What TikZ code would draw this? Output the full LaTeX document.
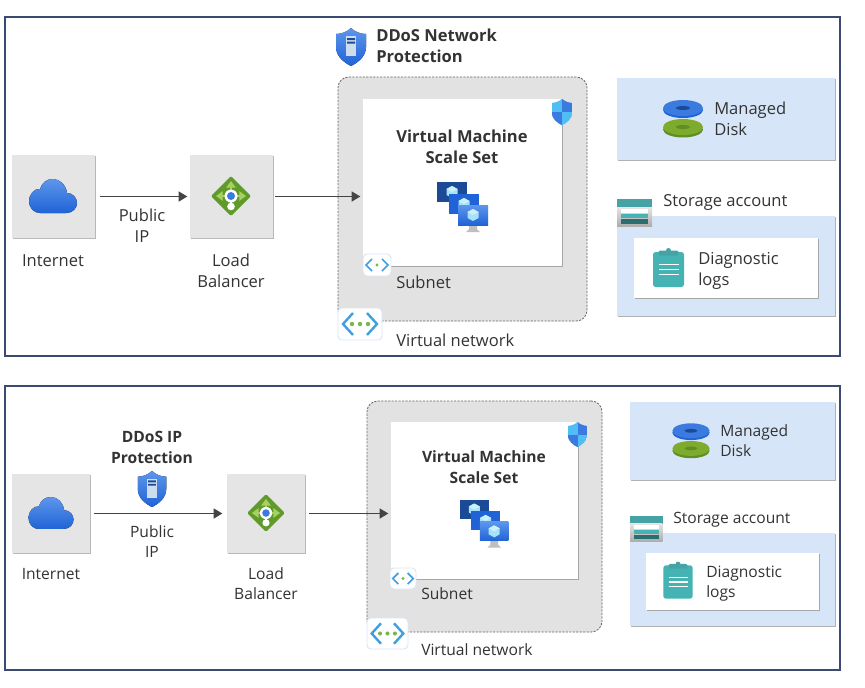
\documentclass[tikz,border=0pt]{standalone}
\usepackage{fontspec}
\setmainfont{Open Sans}
\usetikzlibrary{arrows.meta,shadows}
\definecolor{framec}{HTML}{3A4A70}
\definecolor{tilec}{HTML}{E5E5E5}
\definecolor{vnetc}{HTML}{E2E2E2}
\definecolor{palec}{HTML}{D6E6F8}
\definecolor{inkc}{HTML}{333333}
\definecolor{lineb}{HTML}{444444}
\definecolor{chevc}{HTML}{3F9FE3}
\definecolor{dotc}{HTML}{7AB648}
\definecolor{tealc}{HTML}{45B3B3}
\definecolor{tealtop}{HTML}{45A3A6}
\definecolor{tealdark}{HTML}{2A6E70}
\definecolor{bluehi}{HTML}{5E96EC}
\definecolor{bluelo}{HTML}{1F63D6}
\definecolor{bluemid}{HTML}{3B7BE0}
\definecolor{bluedeep}{HTML}{1B4A96}
\definecolor{cyanhi}{HTML}{50BDF5}
\definecolor{greena}{HTML}{5F9A2A}
\definecolor{greenb}{HTML}{7EAA2E}
\definecolor{greenc}{HTML}{5F8F24}
\definecolor{greenl}{HTML}{A8D060}
\newcommand{\shieldpath}{(0,-19) .. controls (4,-15) and (10,-13) .. (15,-13) -- (15,0) .. controls (15,10) and (6,16) .. (0,19) .. controls (-6,16) and (-15,10) .. (-15,0) -- (-15,-13) .. controls (-10,-13) and (-4,-15) .. (0,-19) -- cycle}
\tikzset{
  sized/.style 2 args={minimum width=#1*.75pt,minimum height=#2*.75pt,inner sep=0pt,outer sep=0pt},
  frame/.style={draw=framec,line width=1.5pt,fill=white},
  tile/.style={fill=tilec,drop shadow={shadow xshift=.9pt,shadow yshift=-.9pt,fill=black!28,opacity=1}},
  palebox/.style={fill=palec,drop shadow={shadow xshift=.9pt,shadow yshift=-.9pt,fill=black!30,opacity=1}},
  whitebox/.style={fill=white,drop shadow={shadow xshift=1pt,shadow yshift=-1pt,fill=black!35,opacity=1}},
  vnetbox/.style={fill=vnetc,draw=black!60,dash pattern=on 1.6pt off 1pt,line width=.6pt,rounded corners=8pt},
  iconbox/.style={fill=white,draw=palec,line width=.7pt,rounded corners=3pt},
  link/.style={draw=lineb,line width=1.1pt,-{Triangle[length=6.5pt,width=7.5pt]}},
  lbl/.style={text=inkc,inner sep=0pt,align=center},
  lblleft/.style={lbl,align=left,anchor=west},
  sizea/.style={font=\fontsize{12.4}{15.75}\selectfont},
  sizeb/.style={font=\fontsize{11.7}{15}\selectfont},
  boldtxt/.style={font=\fontsize{#1}{15.75}\selectfont\bfseries},
  cloudicon/.pic={
    \fill[top color=bluehi,bottom color=bluelo] (-13,17) -- (13,17) .. controls (20,17) and (24,12) .. (24,7) .. controls (24,2) and (20,-3) .. (14,-3) .. controls (13,-11) and (7,-17) .. (0,-17) .. controls (-7,-17) and (-11,-13) .. (-13,-7) .. controls (-19,-8) and (-24,-1) .. (-24,5) .. controls (-24,12) and (-19,17) .. (-13,17) -- cycle;
  },
  lbicon/.pic={
    \fill[rounded corners=1pt,greena] (0,-20) -- (20,0) -- (0,20) -- (-20,0) -- cycle;
    \foreach \tipx/\tipy in {0/-15,-15/0,15/0}
      \draw[line width=2pt,draw=greenl,-{Triangle[length=5pt,width=7pt]}] (0,0) -- (\tipx,\tipy);
    \draw[white,line width=2pt] (0,0) -- (0,9);
    \fill[white] (0,0) circle (6.5);
    \fill[bluemid] (0,0) circle (4);
    \fill[white] (0,10.5) circle (3.8);
  },
  ddosicon/.pic={
    \fill[top color=bluehi,bottom color=bluelo] \shieldpath;
    \fill[black!4!palec] (-5,-11) rectangle (5,9);
    \fill[bluedeep] (-4,-9) rectangle (4,-7) (-4,-5.5) rectangle (4,-3.5);
  },
  defendericon/.pic={
    \begin{scope}[scale=.7]
    \clip \shieldpath;
    \fill[cyanhi] (-15,-19) rectangle (0,0);
    \fill[bluemid] (0,-19) rectangle (15,0);
    \fill[bluemid] (-15,0) rectangle (0,19);
    \fill[cyanhi] (0,0) rectangle (15,19);
    \end{scope}
  },
  cube/.pic={
    \fill[cyan!35!white] (0,-6) -- (5.5,-3) -- (5.5,3) -- (0,6) -- (-5.5,3) -- (-5.5,-3) -- cycle;
    \fill[cyan!20!white] (0,-6) -- (5.5,-3) -- (0,0) -- (-5.5,-3) -- cycle;
  },
  vmssicon/.pic={
    \fill[bluedeep] (0,0) rectangle (30,20);
    \pic at (15,10) {cube};
    \fill[bluelo] (12,12) rectangle (42,32);
    \pic at (27,22) {cube};
    \fill[black!25] (32,43) -- (40,43) -- (40,47) -- (43,50) -- (29,50) -- (32,47) -- cycle;
    \fill[top color=bluehi,bottom color=bluelo] (21,23) rectangle (51,43);
    \pic at (36,33) {cube};
  },
  subnetglyph/.pic={
    \draw[chevc,line width=1.3pt] (-5,-6) -- (-11,0) -- (-5,6) (5,-6) -- (11,0) -- (5,6);
    \fill[dotc] (0,0) circle (1.7);
  },
  vnetglyph/.pic={
    \draw[chevc,line width=1.8pt] (-7,-11) -- (-17,0) -- (-7,11) (7,-11) -- (17,0) -- (7,11);
    \foreach \dotx in {-8,0,8}
      \fill[dotc] (\dotx,0) circle (2.2);
  },
  diskicon/.pic={
    \fill[greenc] (0,10.5) ellipse [x radius=20,y radius=8];
    \fill[greenb] (0,8) ellipse [x radius=20,y radius=8];
    \fill[greenc] (0,8) ellipse [x radius=7,y radius=2];
    \fill[bluelo] (0,-9) ellipse [x radius=20,y radius=8];
    \fill[bluemid] (0,-11) ellipse [x radius=20,y radius=8];
    \fill[bluedeep] (0,-11) ellipse [x radius=7,y radius=2];
  },
  storageicon/.pic={
    \fill[top color=black!10,bottom color=black!32] (0,8) rectangle (35,27);
    \fill[tealtop] (0,0) rectangle (35,8);
    \fill[white] (4,10) rectangle (31,14);
    \fill[tealc] (4,15) rectangle (31,19);
    \fill[tealdark] (4,20) rectangle (31,25);
  },
  logicon/.pic={
    \fill[rounded corners=2pt,tealc] (-15.5,-17.5) rectangle (15.5,17.5);
    \fill[rounded corners=1pt,tealtop] (-10,-19) rectangle (10,-14);
    \fill[tealtop] (0,-19) circle (2.5);
    \foreach \rowy in {-5,0,5}
      \draw[white,line width=1pt] (-10,\rowy) -- (10,\rowy);
  },
}
\begin{document}
\begin{tikzpicture}[x=.75pt,y=-.75pt]
\path[use as bounding box,fill=white] (0,0) rectangle (865,687);
%
\node[frame,sized={835}{339}] (frame1) at (422.5,186.5) {};
\node[frame,sized={835}{284}] (frame2) at (422.5,528) {};
%
\node[tile,sized={83}{83}] (inet1) at (53.5,196.5) {};
\node[tile,sized={83}{83}] (lb1) at (231.5,196.5) {};
\node[vnetbox,sized={249}{244}] (vnet1) at (462.5,199) {};
\node[whitebox,sized={199}{167}] (vm1) at (462.5,182.5) {};
\node[iconbox,sized={28}{22}] (snicon1) at (377,265) {};
\node[iconbox,sized={44}{32}] (vnicon1) at (360,324) {};
\node[palebox,sized={218}{82}] (disk1) at (726,119) {};
\node[palebox,sized={218}{100}] (store1) at (726,266) {};
\node[whitebox,sized={184}{60}] (logs1) at (726,268) {};
%
\pic at (53,196) {cloudicon};
\pic at (231,196) {lbicon};
\pic at (351,47) {ddosicon};
\pic at (562,112) {defendericon};
\pic at (437,182) {vmssicon};
\pic at (377,265) {subnetglyph};
\pic at (360,324) {vnetglyph};
\pic at (683,119) {diskicon};
\pic at (617,199) {storageicon};
\pic at (668.5,269.5) {logicon};
%
\node[lbl,sizea] (ltinet1) at (53,261) {Internet};
\node[lbl,sizea] (ltpip1) at (142,226) {Public\\IP};
\node[lbl,sizea] (ltlb1) at (231,270.5) {Load\\Balancer};
\node[lblleft,boldtxt=12.4] (ltddos1) at (376,45.5) {DDoS Network\\Protection};
\node[lbl,boldtxt=12.4] (ltvm1) at (462,146.5) {Virtual Machine\\Scale Set};
\node[lblleft,sizea] (ltsn1) at (396,282) {Subnet};
\node[lblleft,sizea] (ltvn1) at (396,340) {Virtual network};
\node[lblleft,sizea] (ltdisk1) at (714,118.5) {Managed\\Disk};
\node[lblleft,sizea] (ltstore1) at (663,202) {Storage account};
\node[lblleft,sizea] (ltlogs1) at (698,271) {Diagnostic\\logs};
%
\draw[link,shorten <=3.5pt,shorten >=2pt] (inet1) -- (lb1);
\draw[link,shorten <=1.5pt,shorten >=2pt] (lb1) -- (lb1 -| vm1.west);
%
\node[tile,sized={78}{79}] (inet2) at (51,513.5) {};
\node[tile,sized={78}{79}] (lb2) at (266,513.5) {};
\node[vnetbox,sized={235}{231}] (vnet2) at (484.5,516.5) {};
\node[whitebox,sized={187}{157}] (vm2) at (484.5,500.5) {};
\node[iconbox,sized={26}{21}] (snicon2) at (403,578.5) {};
\node[iconbox,sized={41}{31}] (vnicon2) at (387.5,633.5) {};
\node[palebox,sized={205}{78}] (disk2) at (732.5,441) {};
\node[palebox,sized={205}{93}] (store2) at (732.5,579.5) {};
\node[whitebox,sized={173}{57}] (logs2) at (732.5,581.5) {};
%
\pic[scale=.94] at (51,513) {cloudicon};
\pic[scale=.94] at (266,513) {lbicon};
\pic[scale=.95] at (152,489) {ddosicon};
\pic[scale=.95] at (577.5,434.5) {defendericon};
\pic[scale=.95] at (460,500) {vmssicon};
\pic[scale=.93] at (403,578.5) {subnetglyph};
\pic[scale=.93] at (387.5,633.5) {vnetglyph};
\pic[scale=.93] at (691,441) {diskicon};
\pic[scale=.93] at (630,516) {storageicon};
\pic[scale=.95] at (678,582) {logicon};
%
\node[lbl,sizeb] (ltinet2) at (51,574) {Internet};
\node[lbl,sizeb] (ltpip2) at (152,542) {Public\\IP};
\node[lbl,sizeb] (ltlb2) at (266,583.5) {Load\\Balancer};
\node[lbl,boldtxt=11.7] (ltddos2) at (152,447) {DDoS IP\\Protection};
\node[lbl,boldtxt=11.7] (ltvm2) at (484,467) {Virtual Machine\\Scale Set};
\node[lblleft,sizeb] (ltsn2) at (421,594) {Subnet};
\node[lblleft,sizeb] (ltvn2) at (421,650) {Virtual network};
\node[lblleft,sizeb] (ltdisk2) at (720,441) {Managed\\Disk};
\node[lblleft,sizeb] (ltstore2) at (673,519.5) {Storage account};
\node[lblleft,sizeb] (ltlogs2) at (706,584) {Diagnostic\\logs};
%
\draw[link,shorten <=3pt,shorten >=3.5pt] (inet2) -- (lb2);
\draw[link,shorten <=3pt,shorten >=2pt] (lb2) -- (lb2 -| vm2.west);
%
\end{tikzpicture}
\end{document}
